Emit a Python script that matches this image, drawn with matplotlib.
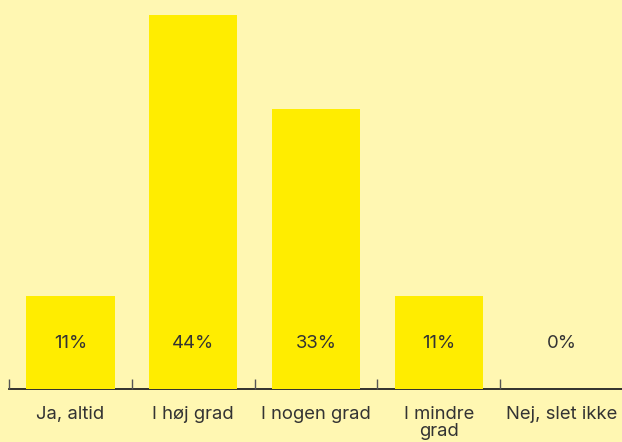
import matplotlib.pyplot as plt

# Data
categories = ['Ja, altid', 'I høj grad', 'I nogen grad', 'I mindre\ngrad', 'Nej, slet ikke']
values = [11.1, 44.4, 33.3, 11.1, 0.0]
value_labels = ['11%', '44%', '33%', '11%', '0%']

bg = '#FFF7B2'
bar_color = '#FFED00'
text_color = '#333333'

plt.rcParams['font.family'] = ['Inter', 'DejaVu Sans']

fig = plt.figure(figsize=(6.22, 4.42), dpi=100, facecolor=bg)
ax = fig.add_axes([9 / 622, 53 / 442, 614 / 622, 389 / 442])
ax.set_facecolor(bg)

x = list(range(len(categories)))
ax.bar(x, values, width=0.72, color=bar_color, zorder=2)

# value labels inside the bars
for xi, lab in zip(x, value_labels):
    ax.text(xi, 5.4, lab, ha='center', va='center', fontsize=13.3,
            color=text_color, zorder=3)

ax.set_xlim(-0.5, len(categories) - 0.5)
ax.set_ylim(0, 46.2)

for s in ['top', 'right', 'left']:
    ax.spines[s].set_visible(False)
ax.spines['bottom'].set_color('#222222')
ax.spines['bottom'].set_linewidth(1.3)
ax.spines['bottom'].set_zorder(1)

ax.set_yticks([])
ax.set_xticks(x)
ax.set_xticklabels(categories, fontsize=13.3, color=text_color, linespacing=0.95, va='top')
ax.tick_params(axis='x', which='major', length=0, pad=12.5)
ax.set_xticks([i - 0.5 for i in x], minor=True)
ax.tick_params(axis='x', which='minor', direction='in', length=7.5, width=1, color='#555555')

fig.savefig('out.png', dpi=100, facecolor=bg)
